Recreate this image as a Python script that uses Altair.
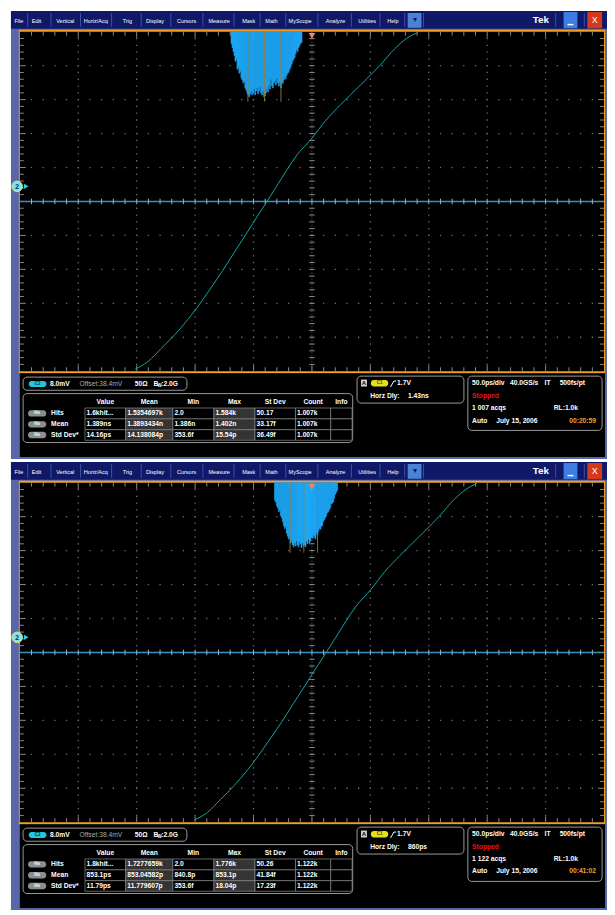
import altair as alt
import pandas as pd

FONT = "Liberation Sans"

# ---------------- values ----------------
menu_items = ["File", "Edit", "Vertical", "Horiz/Acq", "Trig", "Display", "Cursors",
              "Measure", "Mask", "Math", "MyScope", "Analyze", "Utilities", "Help"]
stat_cols = ["Value", "Mean", "Min", "Max", "St Dev", "Count", "Info"]
stat_rows = ["Hits", "Mean", "Std Dev*"]

ps_per_div = 50.0
mv_per_div = 8.0
offset_mv = 38.4
hist_bin_ps = 0.845

top_center_ps = 1430.0
top_wave_ps = [1278.8, 1289.8, 1300.8, 1312.6, 1323.6, 1332.0, 1342.2, 1353.1, 1363.3, 1374.3,
               1384.4, 1391.1, 1399.6, 1408.0, 1416.5, 1430.0, 1441.8, 1454.5, 1471.4, 1488.3,
               1500.9, 1511.9, 1520.4]
top_wave_mv = [-1.1, 0.7, 3.7, 7.0, 10.5, 13.5, 17.5, 21.9, 26.3, 31.0,
               35.4, 38.2, 41.9, 45.6, 49.1, 53.3, 57.5, 61.2, 65.8, 70.5,
               74.4, 77.0, 78.2]
top_hist_start_ps = 1360.7
top_hist_hits = [288, 384, 480, 576, 720, 672, 912, 864, 1008, 960, 1128, 1176, 1248, 1200,
                 1368, 1416, 1488, 1536, 1584, 1512, 1440, 1536, 1488, 1392, 1536, 1440,
                 1368, 1512, 1440, 1344, 1488, 1536, 1440, 1584, 1560, 1488, 1392, 1464,
                 1296, 1392, 1152, 1320, 1368, 1248, 1200, 1296, 1128, 1248, 1320, 1224,
                 1368, 1272, 1248, 1176, 1104, 1152, 1056, 1008, 984, 912, 864, 792, 720,
                 672, 624, 528, 432, 480, 384, 336, 288, 264]
top_mean_ps = 1389.3434
top_sdev_ps = 14.138084
top_table = [["1.6khit...", "1.5354697k", "2.0", "1.584k", "50.17", "1.007k", ""],
             ["1.389ns", "1.3893434n", "1.386n", "1.402n", "33.17f", "1.007k", ""],
             ["14.16ps", "14.138084p", "353.6f", "15.54p", "36.49f", "1.007k", ""]]
top_horz = "1.43ns"
top_acqs = "1 007 acqs"
top_clock = "00:20:59"

bot_center_ps = 860.0
bot_wave_ps = [759.5, 770.5, 781.5, 793.3, 804.3, 812.7, 822.9, 833.8, 844.0, 855.0,
               865.1, 871.8, 880.3, 888.7, 897.2, 910.7, 922.5, 935.2, 952.1, 969.0,
               981.6, 992.6, 1001.1]
bot_wave_mv = [-1.1, 0.7, 3.7, 7.0, 10.5, 13.5, 17.5, 21.9, 26.3, 31.0,
               35.4, 38.2, 41.9, 45.6, 49.1, 53.3, 57.5, 61.2, 65.8, 70.5,
               74.4, 77.0, 78.2]
bot_hist_start_ps = 827.9
bot_hist_hits = [477, 530, 636, 689, 795, 742, 901, 954, 1060, 1166, 1246, 1193, 1378, 1458,
                 1537, 1484, 1643, 1590, 1696, 1749, 1643, 1723, 1590, 1696, 1749, 1617,
                 1670, 1776, 1643, 1723, 1696, 1749, 1590, 1670, 1537, 1643, 1590, 1484,
                 1511, 1431, 1458, 1537, 1378, 1431, 1325, 1246, 1272, 1193, 1166, 1060,
                 1007, 954, 901, 822, 795, 742, 689, 583, 557, 530, 424, 318, 265, 212]
bot_mean_ps = 853.04582
bot_sdev_ps = 11.779607
bot_table = [["1.8khit...", "1.7277659k", "2.0", "1.776k", "50.26", "1.122k", ""],
             ["853.1ps", "853.04582p", "840.8p", "853.1p", "41.84f", "1.122k", ""],
             ["11.79ps", "11.779607p", "353.6f", "18.04p", "17.23f", "1.122k", ""]]
bot_horz = "860ps"
bot_acqs = "1 122 acqs"
bot_clock = "00:41:02"

screens = [
    dict(center=top_center_ps, wps=top_wave_ps, wmv=top_wave_mv, hstart=top_hist_start_ps,
         hits=top_hist_hits, mean=top_mean_ps, sdev=top_sdev_ps, table=top_table,
         horz=top_horz, acqs=top_acqs, clock=top_clock),
    dict(center=bot_center_ps, wps=bot_wave_ps, wmv=bot_wave_mv, hstart=bot_hist_start_ps,
         hits=bot_hist_hits, mean=bot_mean_ps, sdev=bot_sdev_ps, table=bot_table,
         horz=bot_horz, acqs=bot_acqs, clock=bot_clock),
]

# ---------------- layout (screen pixels of the reference) ----------------
W, H = 607, 907
PL, PR, PT, PB = 20, 612, 26, 370
SHIFT = 457
HIST_PX = 66
menu_x = [19, 37, 66, 97, 129, 157, 189, 222, 252, 275, 304, 340, 372, 398]
cell_x = [86, 127.3, 175, 216.7, 258.3, 299.3, 335, 356.7]
cell_y = [407.3, 418.3, 429.3, 440]

BASE = "#5866aa"
NAVY = "#101868"
ORANGE = "#f2a01e"
SEP = "#3f50a6"
WHITE = "#ffffff"
GRAYTXT = "#a9a9a9"
HIST_BLUE = "#1eaaf8"


def sx():
    return alt.Scale(domain=[8, 8 + W], range=[0, W], nice=False, zero=False)


def sy():
    return alt.Scale(domain=[8, 8 + H], range=[0, H], nice=False, zero=False)


def rect_layer(rows, **mk):
    df = pd.DataFrame(rows, columns=["x0", "x1", "y0", "y1", "c"])
    return alt.Chart(df).mark_rect(**mk).encode(
        x=alt.X("x0:Q", scale=sx(), axis=None), x2="x1:Q",
        y=alt.Y("y0:Q", scale=sy(), axis=None), y2="y1:Q",
        fill=alt.Fill("c:N", scale=None))


def seg_layer(rows, width=1.0):
    df = pd.DataFrame(rows, columns=["x0", "x1", "y0", "y1", "c"])
    return alt.Chart(df).mark_rule(strokeWidth=width).encode(
        x=alt.X("x0:Q", scale=sx(), axis=None), x2="x1:Q",
        y=alt.Y("y0:Q", scale=sy(), axis=None), y2="y1:Q",
        color=alt.Color("c:N", scale=None))


def text_layer(rows, align="left", weight="bold"):
    df = pd.DataFrame(rows, columns=["x", "y", "t", "c", "s"])
    return alt.Chart(df).mark_text(align=align, baseline="middle", font=FONT,
                                   fontWeight=weight).encode(
        x=alt.X("x:Q", scale=sx(), axis=None), y=alt.Y("y:Q", scale=sy(), axis=None),
        text="t:N", color=alt.Color("c:N", scale=None), size=alt.Size("s:Q", scale=None))


def scope_layers(s, dy):
    top = PT - 8 + dy
    bot = PB - 8 + dy
    xr = [PL - 8, PR - 8]

    def dxs():
        return alt.Scale(domain=[0, 10], range=xr, nice=False, zero=False)

    def dys():
        return alt.Scale(domain=[-5, 5], range=[bot, top], nice=False, zero=False)

    c = s["center"]

    def tsc():
        return alt.Scale(domain=[c - 5 * ps_per_div, c + 5 * ps_per_div], range=xr,
                         nice=False, zero=False)

    vsc = alt.Scale(domain=[offset_mv - 5 * mv_per_div, offset_mv + 5 * mv_per_div],
                    range=[bot, top], nice=False, zero=False)
    hmax = max(s["hits"])

    def hsc():
        return alt.Scale(domain=[0, hmax], range=[top, top + HIST_PX], nice=False, zero=False)

    out = []
    # graticule dots
    gx, gy = [], []
    for k in [1, 2, 3, 4, 6, 7, 8, 9]:
        for j in range(-24, 25):
            gx.append(k)
            gy.append(j / 5)
    for k in [-4, -3, -2, -1, 1, 2, 3, 4]:
        for j in range(1, 50):
            gx.append(j / 5)
            gy.append(k)
    out.append(alt.Chart(pd.DataFrame({"gx": gx, "gy": gy})).mark_square(
        size=1.7, color="#707070", opacity=1).encode(
        x=alt.X("gx:Q", scale=dxs(), axis=None), y=alt.Y("gy:Q", scale=dys(), axis=None)))

    def div_segs(rows, color, width=1.0, dash=None):
        df = pd.DataFrame(rows, columns=["a0", "a1", "b0", "b1"])
        mk = dict(strokeWidth=width, color=color)
        if dash:
            mk["strokeDash"] = dash
        return alt.Chart(df).mark_rule(**mk).encode(
            x=alt.X("a0:Q", scale=dxs(), axis=None), x2="a1:Q",
            y=alt.Y("b0:Q", scale=dys(), axis=None), y2="b1:Q")

    # centre vertical line
    out.append(div_segs([(5, 5, -5, 5)], "#6a6a6a", 1.0, [1, 2]))
    # edge ticks
    tv, th = 4 / 34.4, 4 / 59.2
    ticks = []
    for j in range(1, 50):
        f = 1.5 if j % 5 == 0 else 1.0
        ticks.append((j / 5, j / 5, 5, 5 - tv * f))
        ticks.append((j / 5, j / 5, -5, -5 + tv * f))
    for j in range(-24, 25):
        f = 1.5 if j % 5 == 0 else 1.0
        ticks.append((0, th * f, j / 5, j / 5))
        ticks.append((10, 10 - th * f, j / 5, j / 5))
        ticks.append((5 - th * 0.7, 5 + th * 0.7, j / 5, j / 5))
    out.append(div_segs(ticks, "#8a8a8a"))
    # centre horizontal line
    out.append(div_segs([(0, 10, 0, 0)], "#3a8fbf", 1.6))
    out.append(div_segs([(j / 5, j / 5, -tv * 0.7, tv * 0.7) for j in range(1, 50)],
                        "#9ab4c4"))

    # histogram
    lo = [s["hstart"] + i * hist_bin_ps for i in range(len(s["hits"]))]
    hdf = pd.DataFrame({"lo": lo, "hi": [v + hist_bin_ps for v in lo],
                        "z": 0, "hits": s["hits"]})
    out.append(alt.Chart(hdf).mark_rect(color=HIST_BLUE, stroke=HIST_BLUE,
                                        strokeWidth=0.5).encode(
        x=alt.X("lo:Q", scale=tsc(), axis=None), x2="hi:Q",
        y=alt.Y("z:Q", scale=hsc(), axis=None), y2="hits:Q"))
    # mean and +/- one sigma markers
    sdf = pd.DataFrame({"t": [s["mean"] - s["sdev"], s["mean"], s["mean"] + s["sdev"]],
                        "z": 0, "e": hmax * 1.075})
    out.append(alt.Chart(sdf).mark_rule(color="#9a7a3e", strokeWidth=0.9).encode(
        x=alt.X("t:Q", scale=tsc(), axis=None),
        y=alt.Y("z:Q", scale=hsc(), axis=None), y2="e:Q"))
    # waveform
    wdf = pd.DataFrame({"ps": s["wps"], "mv": s["wmv"]})
    out.append(alt.Chart(wdf).mark_line(color="#13a6a6", strokeWidth=1,
                                        interpolate="monotone").encode(
        x=alt.X("ps:Q", scale=tsc(), axis=None), y=alt.Y("mv:Q", scale=vsc, axis=None)))
    # trigger position marker
    out.append(alt.Chart(pd.DataFrame({"gx": [5], "gy": [4.88]})).mark_point(
        shape="triangle-down", filled=True, size=45, color="#f3845e", opacity=1).encode(
        x=alt.X("gx:Q", scale=dxs(), axis=None), y=alt.Y("gy:Q", scale=dys(), axis=None)))
    # channel 2 marker
    out.append(alt.Chart(pd.DataFrame({"x": [17.3], "y": [182.7 + dy]})).mark_point(
        shape="circle", filled=True, size=115, fill="#78e4f6", stroke="#ece070",
        strokeWidth=1, opacity=1).encode(
        x=alt.X("x:Q", scale=sx(), axis=None), y=alt.Y("y:Q", scale=sy(), axis=None)))
    out.append(alt.Chart(pd.DataFrame({"x": [26.5], "y": [182.7 + dy]})).mark_point(
        shape="triangle-right", filled=True, size=30, color="#22d2f2", opacity=1).encode(
        x=alt.X("x:Q", scale=sx(), axis=None), y=alt.Y("y:Q", scale=sy(), axis=None)))
    return out


plain, boxes, pills, cells, segs, overs = [], [], [], [], [], []
t_bl, t_nl, t_bc, t_nc = [], [], [], []
for s, dy in zip(screens, (0, SHIFT)):
    plain += [
        (11, 615, 5 + dy, 459 + dy, BASE),
        (11, 615, 5 + dy, 23 + dy, NAVY),
        (19, 613, 24 + dy, 372 + dy, ORANGE),
        (20, 612, 26 + dy, 370 + dy, "#000000"),
        (20, 613, 372 + dy, 457 + dy, "#000000"),
        (413, 427, 7 + dy, 22 + dy, "#4a82d4"),
        (571, 585, 6 + dy, 22.5 + dy, "#3b7de0"),
        (595, 610, 6 + dy, 22.5 + dy, "#d4391d"),
        (575, 581, 18 + dy, 19.5 + dy, WHITE),
    ]
    overs.append((365.7, 371.7, 378.5 + dy, 385.5 + dy, "#d4d4d4"))
    # menu bar
    for name, cx in zip(menu_items, menu_x):
        t_nc.append((cx, 14.8 + dy, name, WHITE, 5.6))
    seps = [(a + b) / 2 for a, b in zip(menu_x[:-1], menu_x[1:])] + [410, 429, 563, 592]
    for xs in seps:
        segs.append((xs, xs, 7 + dy, 21 + dy, SEP))
    t_bc.append((548, 14.5 + dy, "Tek", WHITE, 10))
    t_nc.append((602.5, 14.5 + dy, "X", WHITE, 9))
    t_nc.append((420, 14.5 + dy, "▾", NAVY, 8))

    # channel box
    boxes += [(23.3, 189.3, 376 + dy, 389.3 + dy, "#000000"),
              (23.3, 357.3, 392.7 + dy, 442.3 + dy, "#000000"),
              (361.7, 470, 375 + dy, 402.3 + dy, "#000000"),
              (474, 610, 375 + dy, 430 + dy, "#000000")]
    pills += [(29, 47, 380 + dy, 386 + dy, "#22c6de"),
              (375.7, 393.3, 379 + dy, 385.5 + dy, "#e4de1e")]
    t_bc.append((38, 383 + dy, "C2", "#0a3a4a", 4.6))
    t_bc.append((384.5, 382.3 + dy, "C1", "#4a4a00", 4.6))
    t_bl.append((50.5, 383 + dy, "8.0mV", WHITE, 6.8))
    t_nl.append((80.5, 383 + dy, "Offset:38.4mV", GRAYTXT, 6.8))
    t_bl.append((136.5, 383 + dy, "50Ω", WHITE, 6.8))
    t_bl.append((155.5, 383 + dy, "B", WHITE, 6.8))
    t_bl.append((159.6, 385.2 + dy, "W", WHITE, 4.5))
    t_bl.append((163.3, 383 + dy, ":2.0G", WHITE, 6.8))

    # measurement table
    for ci, name in enumerate(stat_cols):
        t_bc.append(((cell_x[ci] + cell_x[ci + 1]) / 2, 401 + dy, name, WHITE, 6.8))
    for ri, name in enumerate(stat_rows):
        yc = (cell_y[ri] + cell_y[ri + 1]) / 2 + dy
        pills.append((28.3, 46.7, yc - 3.2, yc + 3.2, "#8e8e8e"))
        t_bc.append((37.5, yc, "Hs", WHITE, 4.5))
        t_bl.append((51.7, yc, name, WHITE, 6.8))
        for ci in range(len(stat_cols)):
            cells.append((cell_x[ci], cell_x[ci + 1], cell_y[ri] + dy, cell_y[ri + 1] + dy,
                          "#343434" if ci in (1, 3) else "#000000"))
            if s["table"][ri][ci]:
                t_bl.append((cell_x[ci] + 1.6, yc, s["table"][ri][ci], WHITE, 6.8))

    # trigger box
    t_bc.append((368.7, 382 + dy, "A", "#000000", 6))
    segs.append((395.6, 399, 386 + dy, 380 + dy, WHITE))
    segs.append((399, 401.3, 380 + dy, 380 + dy, WHITE))
    t_bl.append((402.3, 382.3 + dy, "1.7V", WHITE, 6.8))
    t_bl.append((375, 395 + dy, "Horz Dly:", WHITE, 6.8))
    t_bl.append((413.3, 395 + dy, s["horz"], WHITE, 6.8))

    # acquisition box
    t_bl += [(478.3, 382.3 + dy, "50.0ps/div", WHITE, 6.8),
             (516.7, 382.3 + dy, "40.0GS/s", WHITE, 6.8),
             (551.7, 382.3 + dy, "IT", WHITE, 6.8),
             (567, 382.3 + dy, "500fs/pt", WHITE, 6.8),
             (478.3, 395 + dy, "Stopped", "#e01818", 6.8),
             (478.3, 407.3 + dy, s["acqs"], WHITE, 6.8),
             (561, 407.3 + dy, "RL:1.0k", WHITE, 6.8),
             (478.3, 420 + dy, "Auto", WHITE, 6.8),
             (502.7, 420 + dy, "July 15, 2006", WHITE, 6.8),
             (576.7, 420 + dy, s["clock"], "#f0a030", 6.8)]

layers = [rect_layer(plain)]
for s, dy in zip(screens, (0, SHIFT)):
    layers += scope_layers(s, dy)
layers += [
    rect_layer(boxes, cornerRadius=4, stroke="#9a9a9a", strokeWidth=1),
    rect_layer(cells, stroke="#8c8c8c", strokeWidth=0.7),
    rect_layer(pills, cornerRadius=3),
    rect_layer(overs),
    seg_layer(segs),
    text_layer(t_bl, "left", "bold"),
    text_layer(t_nl, "left", "normal"),
    text_layer(t_bc, "center", "bold"),
    text_layer(t_nc, "center", "normal"),
]

# channel-2 marker label
for dy in (0, SHIFT):
    layers.append(text_layer([(17.3, 183 + dy, "2", "#103040", 7)], "center", "bold"))

chart = alt.layer(*layers).resolve_scale(
    x="independent", y="independent", color="independent", fill="independent",
    size="independent"
).properties(width=W, height=H, padding=0, autosize="none", background="white"
             ).configure_view(stroke=None)

chart.save("out.html", embed_options={"renderer": "svg", "actions": False})
